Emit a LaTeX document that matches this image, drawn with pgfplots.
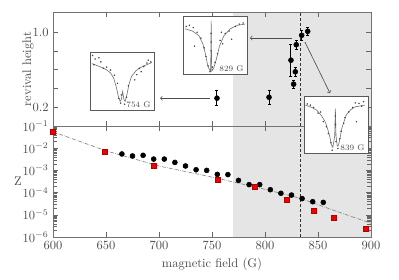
\documentclass[border=0pt]{standalone}
\usepackage{pgfplots}
\pgfplotsset{compat=1.18}
\tikzset{lab/.style={anchor=south east, font=\fontsize{6.5}{7}\selectfont, text=black!70, inner sep=1pt}}
\begin{document}
\begin{tikzpicture}
\useasboundingbox (-42.4pt,-33.6pt) rectangle (276.8pt,189.6pt);
\pgfplotsset{
 mystyle/.style={scale only axis, width=254.4pt, xmin=600, xmax=900,
   xtick={600,650,...,900}, axis on top,
   axis line style={black!55, line width=0.6pt}, tick style={black!60},
   tick label style={text=black!70}, label style={text=black!70}, clip=false},
 inset/.style={scale only axis, width=51.2pt, height=46.4pt, xmin=0, xmax=1, ymin=0, ymax=1,
   xtick=\empty, ytick=\empty, axis background/.style={fill=white},
   axis line style={black!65, line width=0.6pt}, anchor=south west, clip=false},
 fitc/.style={black!55, line width=0.5pt},
 pts/.style={only marks, mark=*, mark size=0.35pt, black!75}
}
% bottom axis
\begin{axis}[mystyle, clip=true, at={(0pt,0pt)}, anchor=south west, height=88.8pt,
  ymode=log, ymin=1e-6, ymax=1e-1, ytick={1e-6,1e-5,1e-4,1e-3,1e-2,1e-1},
  xlabel={magnetic field (G)}, ylabel={Z},
  ylabel style={rotate=-90, at={(axis description cs:-0.11,0.5)}, anchor=center}]
\addplot[fill=black!10, draw=none] coordinates {(770,1e-6) (770,1e-1) (900,1e-1) (900,1e-6)} -- cycle;
\addplot[black!80, line width=0.7pt, dash pattern=on 2.5pt off 1.5pt] coordinates {(833,1e-6) (833,1e-1)};
\addplot[black!50, densely dashdotted, line width=0.5pt] coordinates {
 (600,0.055) (650,7.6e-3) (700,1.58e-3) (750,5.0e-4) (800,1.41e-4) (833,5.6e-5) (865,1.58e-5) (900,4.17e-6)};
\addplot[only marks, mark=*, mark size=2pt, black] coordinates {
 (665,0.00550) (675,0.00447) (685,0.00479) (695,0.00324) (705,0.00324)
 (715,0.00229) (725,0.00158) (735,0.00107) (745,0.00100) (755,6.61e-4)
 (765,6.46e-4) (775,3.55e-4) (785,2.29e-4) (795,2.29e-4) (805,1.35e-4)
 (815,9.33e-5) (825,7.76e-5) (835,5.37e-5) (845,3.89e-5) (855,3.63e-5)};
\addplot[only marks, mark=square*, mark size=2pt, draw=red!70!black, fill=red!95!black] coordinates {
 (600,0.0550) (648.4,0.00661) (695.3,0.00170) (755.3,3.98e-4) (790,1.86e-4)
 (820.1,4.79e-5) (846.2,1.45e-5) (865.1,7.24e-6) (895.3,2.24e-6)};
\end{axis}
% top axis
\begin{axis}[mystyle, at={(0pt,88.8pt)}, anchor=south west, height=91.2pt,
  ymin=0, ymax=1.213, ytick={0.2,0.4,0.6,0.8,1.0}, yticklabels={0.2,,,,1.0},
  xticklabels={}, ylabel={revival height},
  ylabel style={at={(axis description cs:-0.0786,0.5)}, anchor=center}]
\addplot[fill=black!10, draw=none] coordinates {(770,0) (770,1.213) (900,1.213) (900,0)} -- cycle;
\addplot[black!80, line width=0.7pt, dash pattern=on 2.5pt off 1.5pt] coordinates {(833,0) (833,1.213)};
\addplot[only marks, mark=*, mark size=2pt, black,
  error bars/.cd, y dir=both, y explicit, error bar style={line width=0.8pt},
  error mark options={rotate=90, mark size=1.2pt}] coordinates {
 (754.7,0.296) +- (0,0.08)
 (803.8,0.306) +- (0,0.075)
 (824.5,0.70) +- (0,0.17)
 (827,0.445) +- (0,0.045)
 (828.6,0.577) +- (0,0.045)
 (829.5,0.865) +- (0,0.05)
 (834.6,0.965) +- (0,0.05)
 (840.3,1.007) +- (0,0.04)};
\draw[->, black!70, line width=0.5pt] (axis cs:748,0.296) -- (axis cs:701,0.296);
\draw[->, black!70, line width=0.5pt] (axis cs:825.5,0.936) -- (axis cs:785.8,0.936);
\draw[->, black!70, line width=0.5pt] (axis cs:837.7,0.893) -- (axis cs:861.3,0.349);
\end{axis}
% inset 754 G
\begin{axis}[inset, at={(29.6pt,101.6pt)}]
\addplot[fitc] coordinates {(0.03,0.80) (0.15,0.75) (0.25,0.70) (0.32,0.64) (0.37,0.55) (0.41,0.40) (0.44,0.25) (0.47,0.15) (0.49,0.18) (0.51,0.32) (0.53,0.18) (0.55,0.15) (0.58,0.28) (0.61,0.45) (0.65,0.58) (0.72,0.68) (0.82,0.75) (0.97,0.82)};
\addplot[pts] coordinates {(0.04,0.94) (0.08,0.88) (0.14,0.90) (0.06,0.78) (0.17,0.83) (0.21,0.72) (0.26,0.74) (0.32,0.69) (0.38,0.60) (0.43,0.46) (0.45,0.2) (0.49,0.26) (0.48,0.12) (0.54,0.10) (0.57,0.22) (0.60,0.42) (0.70,0.52) (0.73,0.61) (0.80,0.66) (0.84,0.75) (0.89,0.81) (0.95,0.83) (0.77,0.72) (0.91,0.86)};
\node[lab] at (axis description cs:0.97,0.02) {754 G};
\end{axis}
% inset 829 G
\begin{axis}[inset, at={(104pt,130.4pt)}]
\addplot[fitc] coordinates {(0.03,0.78) (0.15,0.74) (0.25,0.66) (0.31,0.52) (0.35,0.35) (0.38,0.18) (0.41,0.08) (0.43,0.05) (0.435,0.3) (0.44,0.92) (0.445,0.3) (0.45,0.05) (0.48,0.10) (0.52,0.25) (0.57,0.48) (0.64,0.66) (0.74,0.78) (0.85,0.84) (0.97,0.86)};
\addplot[pts] coordinates {(0.05,0.82) (0.10,0.84) (0.16,0.80) (0.22,0.72) (0.18,0.48) (0.28,0.62) (0.33,0.45) (0.36,0.30) (0.39,0.14) (0.42,0.04) (0.44,0.70) (0.44,0.55) (0.44,0.40) (0.46,0.12) (0.50,0.20) (0.54,0.35) (0.58,0.58) (0.62,0.52) (0.66,0.70) (0.72,0.74) (0.76,0.60) (0.82,0.82) (0.88,0.86) (0.94,0.88) (0.60,0.72)};
\node[lab] at (axis description cs:0.97,0.02) {829 G};
\end{axis}
% inset 839 G
\begin{axis}[inset, at={(200.8pt,67.2pt)}, height=45.6pt]
\addplot[fitc] coordinates {(0.02,0.84) (0.12,0.80) (0.20,0.75) (0.27,0.66) (0.33,0.55) (0.37,0.42) (0.40,0.30) (0.43,0.14) (0.45,0.10) (0.48,0.30) (0.49,0.78) (0.50,0.30) (0.52,0.12) (0.54,0.14) (0.57,0.30) (0.59,0.43) (0.66,0.67) (0.73,0.76) (0.80,0.81) (0.95,0.84)};
\addplot[pts] coordinates {(0.05,0.86) (0.10,0.84) (0.15,0.80) (0.22,0.70) (0.26,0.72) (0.30,0.55) (0.35,0.46) (0.38,0.34) (0.42,0.18) (0.44,0.05) (0.49,0.65) (0.49,0.5) (0.50,0.20) (0.53,0.08) (0.56,0.25) (0.58,0.38) (0.62,0.52) (0.64,0.62) (0.70,0.72) (0.76,0.80) (0.80,0.88) (0.86,0.87) (0.90,0.82) (0.93,0.90) (0.82,0.55)};
\node[lab] at (axis description cs:0.97,0.02) {839 G};
\end{axis}
\end{tikzpicture}
\end{document}
